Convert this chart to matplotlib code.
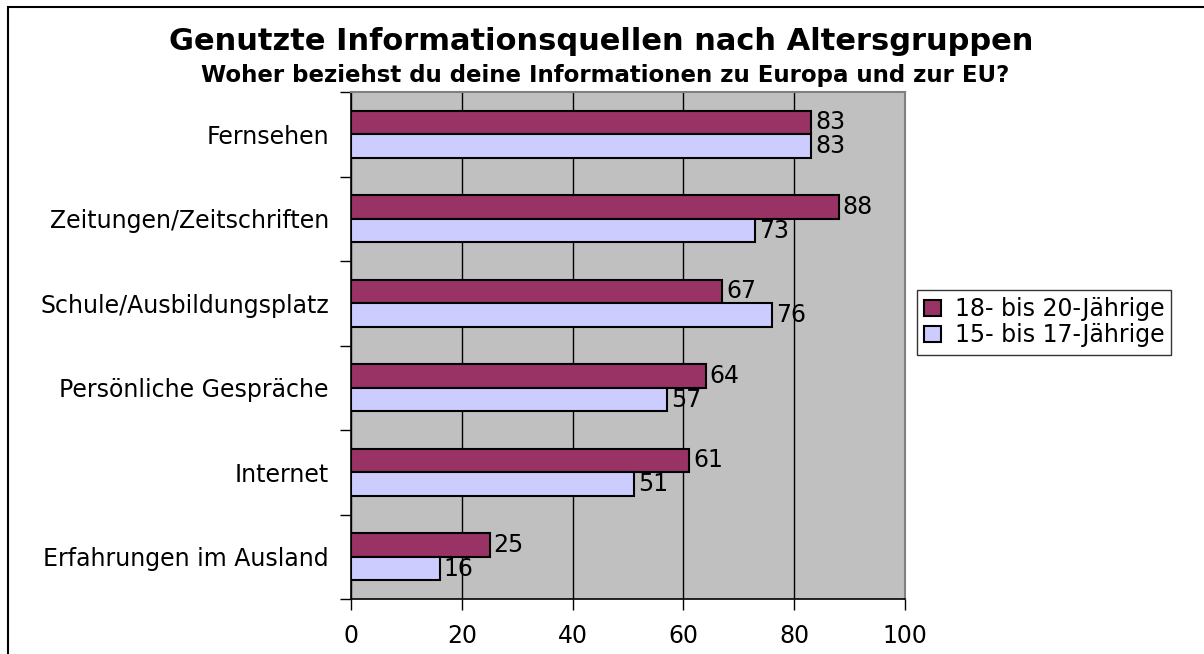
import matplotlib.pyplot as plt
import numpy as np
from matplotlib.patches import Rectangle

plt.rcParams['font.family'] = ['DejaVu Sans']

# Datos
kategorien = ['Fernsehen', 'Zeitungen/Zeitschriften', 'Schule/Ausbildungsplatz',
              'Persönliche Gespräche', 'Internet', 'Erfahrungen im Ausland']
werte_18_20 = [83, 88, 67, 64, 61, 25]
werte_15_17 = [83, 73, 76, 57, 51, 16]
serien = ['18- bis 20-Jährige', '15- bis 17-Jährige']
x_ticks = [0, 20, 40, 60, 80, 100]

farbe_18 = '#993366'
farbe_15 = '#ccccff'
fs = 17

fig = plt.figure(figsize=(12.04, 6.54), dpi=100)
ax = fig.add_axes([351 / 1204, 1 - 599 / 654, 554 / 1204, 507 / 654])

# Rahmen um die ganze Grafik (rechts/unten abgeschnitten)
fig.patches.append(Rectangle((8 / 1204, -0.1), 1.2, 1 - 7 / 654 + 0.1,
                             transform=fig.transFigure, fill=False,
                             edgecolor='black', linewidth=1.5))

y = np.arange(len(kategorien))
h = 0.28
ax.barh(y - h / 2, werte_18_20, height=h, color=farbe_18, edgecolor='black',
        linewidth=1.5, label=serien[0], zorder=3)
ax.barh(y + h / 2, werte_15_17, height=h, color=farbe_15, edgecolor='black',
        linewidth=1.5, label=serien[1], zorder=3)

for i in range(len(kategorien)):
    ax.annotate(str(werte_18_20[i]), (werte_18_20[i], y[i] - h / 2),
                xytext=(3, 0), textcoords='offset points', va='center',
                fontsize=fs)
    ax.annotate(str(werte_15_17[i]), (werte_15_17[i], y[i] + h / 2),
                xytext=(3, 0), textcoords='offset points', va='center',
                fontsize=fs)

ax.set_facecolor('#c0c0c0')
ax.set_xlim(0, 100)
ax.set_ylim(len(kategorien) - 0.5, -0.5)
ax.set_xticks(x_ticks)
ax.xaxis.grid(True, color='black', linewidth=1, zorder=1)
ax.set_axisbelow(True)

ax.set_yticks(y)
ax.set_yticklabels(kategorien, fontsize=fs)
ax.set_yticks(np.arange(-0.5, len(kategorien), 1), minor=True)
ax.tick_params(axis='y', which='major', length=0, pad=16)
ax.tick_params(axis='y', which='minor', length=8, width=1, direction='out')
ax.tick_params(axis='x', length=8, width=1, labelsize=fs, pad=10)

for s in ['top', 'right']:
    ax.spines[s].set_color('#808080')
    ax.spines[s].set_linewidth(1.5)
for s in ['left', 'bottom']:
    ax.spines[s].set_color('black')
    ax.spines[s].set_linewidth(1.2)

fig.text(601 / 1204, 1 - 50 / 654, 'Genutzte Informationsquellen nach Altersgruppen',
         ha='center', va='baseline', fontsize=22, fontweight='bold')
fig.text(605 / 1204, 1 - 82 / 654, 'Woher beziehst du deine Informationen zu Europa und zur EU?',
         ha='center', va='baseline', fontsize=16.5, fontweight='bold')

leg = fig.legend(loc='upper left', bbox_to_anchor=(917 / 1204, 1 - 290 / 654),
                 fontsize=fs, frameon=True, fancybox=False, edgecolor='black',
                 handlelength=0.7, handleheight=0.7, handletextpad=0.6,
                 borderpad=0.3, labelspacing=0.1, borderaxespad=0)
leg.get_frame().set_linewidth(1)

plt.savefig('out.png', dpi=100)
